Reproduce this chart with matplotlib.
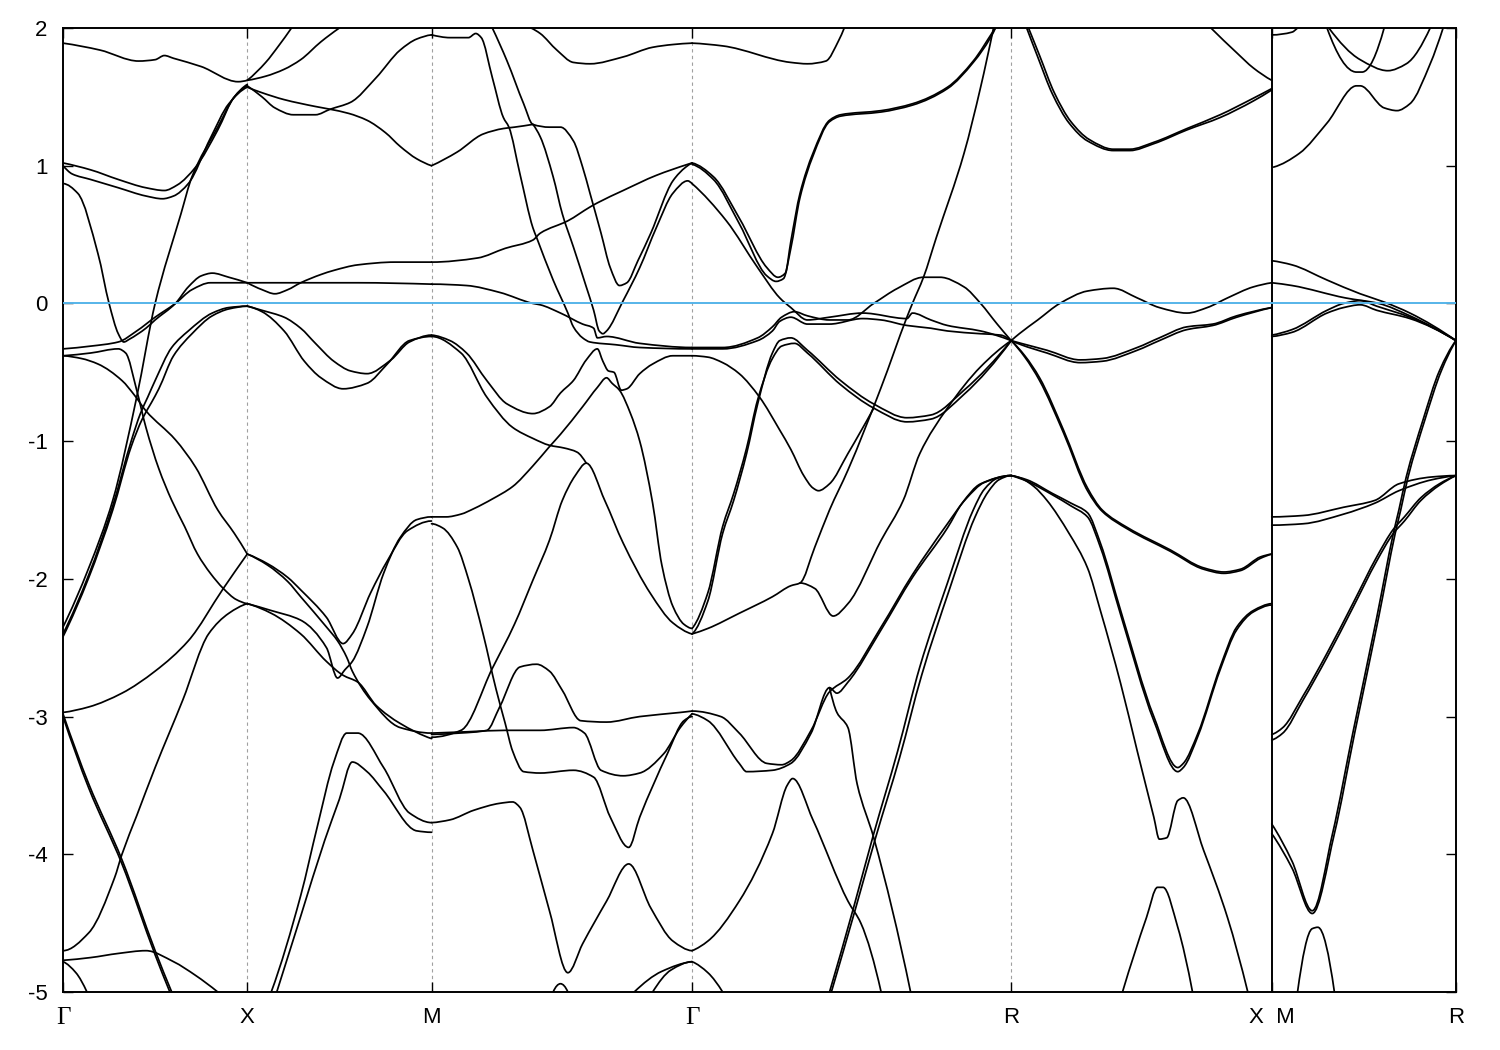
import matplotlib
matplotlib.use('Agg')
import matplotlib.pyplot as plt
from matplotlib.path import Path
from matplotlib.patches import PathPatch

# high-symmetry points along the path (distance units, Gamma-X = 1)
kpts = [0.0, 1.0, 2.0, 3.414, 5.146, 6.56, 7.56]
klabels = ['Γ', 'X', 'M', 'Γ', 'R', 'X  M', 'R']
yticks = [2, 1, 0, -1, -2, -3, -4, -5]
ylabels = ['2', '1', '0', '-1', '-2', '-3', '-4', '-5']

# ---------------- Gamma -> X ----------------
GX1 = [(0,1.89),(0.2,1.84),(0.41,1.76),(0.5,1.77),(0.55,1.80),(0.6,1.78),(0.75,1.72),(0.95,1.61),(1.0,1.62)]
GX2 = [(0,1.02),(0.15,0.97),(0.3,0.9),(0.45,0.84),(0.55,0.82),(0.62,0.86),(0.72,0.99),(0.84,1.26),(0.93,1.5),(1.0,1.58)]
GX3 = [(0,1.0),(0.05,0.94),(0.15,0.9),(0.3,0.84),(0.45,0.78),(0.54,0.76),(0.6,0.78),(0.68,0.87),(0.8,1.2),(0.9,1.45),(1.0,1.57)]
GX4 = [(0,-2.35),(0.14,-1.92),(0.27,-1.43),(0.4,-0.68),(0.5,0.0),(0.64,0.65),(0.7,0.92),(0.84,1.28),(0.93,1.5),(1.0,1.59)]
GX5 = [(0,0.87),(0.08,0.8),(0.19,0.36),(0.25,0.0),(0.3,-0.22),(0.33,-0.28),(0.36,-0.26),(0.45,-0.18),(0.5,-0.12),(0.61,0.0),(0.68,0.12),(0.75,0.2),(0.81,0.22),(0.9,0.19),(1.0,0.15)]
GX6 = [(0,-0.33),(0.15,-0.31),(0.3,-0.28),(0.4,-0.2),(0.5,-0.1),(0.61,0.0),(0.7,0.1),(0.8,0.15),(1.0,0.15)]
GX7 = [(0,-0.38),(0.15,-0.36),(0.3,-0.33),(0.34,-0.36),(0.4,-0.63),(0.45,-0.9),(0.52,-1.2),(0.59,-1.43),(0.66,-1.62),(0.73,-1.82),(0.8,-1.96),(0.87,-2.07),(0.94,-2.15),(1.0,-2.18)]
GX8 = [(0,-0.38),(0.1,-0.4),(0.19,-0.44),(0.32,-0.56),(0.39,-0.67),(0.45,-0.78),(0.61,-0.99),(0.72,-1.19),(0.84,-1.5),(0.93,-1.67),(1.0,-1.82)]
GX10 = [(0,-2.4),(0.14,-1.97),(0.27,-1.47),(0.37,-1.0),(0.42,-0.8),(0.46,-0.68),(0.5,-0.56),(0.59,-0.32),(0.68,-0.2),(0.81,-0.07),(0.9,-0.03),(1.0,-0.02)]
GX11 = [(0,-2.42),(0.14,-1.99),(0.27,-1.5),(0.37,-1.04),(0.43,-0.84),(0.48,-0.72),(0.52,-0.62),(0.6,-0.38),(0.7,-0.22),(0.81,-0.09),(0.9,-0.04),(1.0,-0.02)]
GX12 = [(0,-2.97),(0.14,-2.93),(0.32,-2.83),(0.5,-2.67),(0.68,-2.45),(0.87,-2.07),(1.0,-1.82)]
GX13 = [(0,-2.98),(0.14,-3.49),(0.32,-4.04),(0.5,-4.7),(0.59,-5.0)]
GX14 = [(0,-3.0),(0.14,-3.52),(0.32,-4.07),(0.5,-4.73),(0.58,-5.0)]
GX15 = [(0,-4.7),(0.14,-4.57),(0.28,-4.17),(0.32,-4.0),(0.4,-3.72),(0.5,-3.37),(0.65,-2.88),(0.79,-2.4),(0.9,-2.25),(1.0,-2.18)]
GX16 = [(0,-4.77),(0.15,-4.75),(0.3,-4.72),(0.45,-4.70),(0.6,-4.78),(0.72,-4.88),(0.84,-5.0)]
GX17 = [(0,-4.78),(0.07,-4.86),(0.13,-5.0)]

# ---------------- X -> M ----------------
XM1 = [(1,1.62),(1.1,1.75),(1.17,1.87),(1.24,2.0)]
XM2 = [(1,1.62),(1.1,1.65),(1.2,1.7),(1.29,1.77),(1.4,1.9),(1.5,2.0)]
XM3 = [(1,1.58),(1.08,1.5),(1.15,1.42),(1.25,1.37),(1.37,1.37),(1.45,1.41),(1.56,1.46),(1.7,1.64),(1.83,1.84),(1.92,1.92),(2.0,1.95)]
XM4 = [(1,1.57),(1.08,1.53),(1.2,1.48),(1.37,1.43),(1.45,1.41),(1.55,1.38),(1.65,1.33),(1.75,1.24),(1.83,1.14),(1.92,1.05),(2.0,1.0)]
XM5 = [(1,0.15),(1.3,0.15),(1.6,0.15),(2.0,0.14)]
XM6 = [(1,0.15),(1.08,0.1),(1.15,0.07),(1.22,0.1),(1.29,0.15),(1.4,0.21),(1.47,0.24),(1.6,0.28),(1.8,0.3),(2.0,0.3)]
XM7 = [(1,-0.02),(1.08,-0.05),(1.2,-0.1),(1.29,-0.18),(1.37,-0.29),(1.47,-0.42),(1.56,-0.49),(1.65,-0.51),(1.78,-0.41),(1.88,-0.28),(2.0,-0.23)]
XM8 = [(1,-0.02),(1.08,-0.06),(1.2,-0.2),(1.31,-0.42),(1.4,-0.54),(1.52,-0.62),(1.65,-0.58),(1.76,-0.44),(1.88,-0.27),(2.0,-0.24)]
XM9 = [(1,-1.82),(1.11,-1.89),(1.22,-1.99),(1.29,-2.08),(1.43,-2.28),(1.52,-2.47),(1.57,-2.4),(1.67,-2.1),(1.76,-1.87),(1.87,-1.65),(2.0,-1.58)]
XM10 = [(1,-1.82),(1.11,-1.9),(1.22,-2.02),(1.29,-2.13),(1.43,-2.35),(1.49,-2.45),(1.54,-2.57),(1.57,-2.67),(1.67,-2.88),(1.83,-3.08),(2.0,-3.12)]
XM11 = [(1,-2.18),(1.13,-2.23),(1.29,-2.3),(1.43,-2.5),(1.49,-2.72),(1.53,-2.66),(1.57,-2.6),(1.65,-2.35),(1.74,-1.96),(1.83,-1.7),(1.92,-1.57),(2.0,-1.55)]
XM12 = [(1,-2.18),(1.13,-2.25),(1.29,-2.4),(1.43,-2.6),(1.52,-2.7),(1.6,-2.75),(1.7,-2.92),(1.83,-3.05),(2.0,-3.16)]
XM13 = [(1.13,-5.0),(1.29,-4.3),(1.38,-3.8),(1.47,-3.33),(1.54,-3.12),(1.6,-3.12),(1.74,-3.37),(1.88,-3.7),(2.0,-3.77)]
XM14 = [(1.16,-5.0),(1.29,-4.45),(1.42,-3.9),(1.5,-3.6),(1.57,-3.33),(1.65,-3.4),(1.74,-3.54),(1.92,-3.83),(2.0,-3.84)]

# ---------------- M -> Gamma ----------------
MG1 = [(2.54,2.0),(2.59,1.96),(2.68,1.84),(2.77,1.75),(2.86,1.74),(3.04,1.79),(3.2,1.86),(3.31,1.88),(3.414,1.89)]
MG2 = [(2.0,1.95),(2.1,1.93),(2.2,1.93),(2.24,1.96),(2.27,1.93),(2.33,1.64),(2.39,1.35),(2.42,1.28),(2.48,0.94),(2.55,0.55),(2.57,0.48),(2.66,0.17),(2.74,-0.07),(2.77,-0.17),(2.82,-0.25),(2.86,-0.28),(3.0,-0.3),(3.13,-0.32),(3.414,-0.33)]
MG3 = [(2.0,1.0),(2.14,1.1),(2.28,1.23),(2.39,1.27),(2.45,1.28),(2.55,1.3)]
MG4 = [(2.33,2.0),(2.41,1.76),(2.5,1.45),(2.55,1.3),(2.64,1.28),(2.7,1.28),(2.77,1.18),(2.82,0.99),(2.86,0.8),(2.92,0.51),(2.97,0.26),(3.02,0.13),(3.06,0.15),(3.12,0.31),(3.19,0.51),(3.31,0.89),(3.38,0.99),(3.414,1.02)]
MG5 = [(2.55,1.3),(2.59,1.21),(2.66,0.92),(2.71,0.65),(2.77,0.41),(2.84,0.12),(2.88,-0.05),(2.91,-0.2),(2.93,-0.22),(2.95,-0.2),(3.04,0.02),(3.13,0.26),(3.22,0.55),(3.31,0.8),(3.39,0.89),(3.414,0.87)]
MG6 = [(2.0,0.3),(2.25,0.33),(2.4,0.4),(2.55,0.46),(2.59,0.51),(2.74,0.6),(2.86,0.7),(2.9,0.73),(3.04,0.82),(3.22,0.93),(3.39,1.01),(3.414,1.02)]
MG7 = [(2.0,0.14),(2.19,0.13),(2.37,0.08),(2.55,0.0),(2.59,-0.01),(2.7,-0.07),(2.82,-0.15),(2.88,-0.18),(2.9,-0.25),(2.95,-0.24),(3.13,-0.29),(3.414,-0.32)]
MG8 = [(2.0,-0.23),(2.1,-0.27),(2.19,-0.36),(2.3,-0.56),(2.41,-0.73),(2.55,-0.8),(2.64,-0.75),(2.7,-0.65),(2.77,-0.56),(2.84,-0.41),(2.9,-0.33),(2.93,-0.42),(2.96,-0.49),(2.99,-0.5),(3.03,-0.63),(3.06,-0.62),(3.13,-0.51),(3.2,-0.44),(3.31,-0.38),(3.414,-0.38)]
MG9 = [(2.0,-0.24),(2.16,-0.36),(2.3,-0.68),(2.44,-0.9),(2.55,-0.98),(2.64,-1.03),(2.72,-1.05),(2.79,-1.08),(2.84,-1.16)]
MG10 = [(2.0,-1.55),(2.08,-1.55),(2.16,-1.53),(2.23,-1.49),(2.33,-1.42),(2.44,-1.33),(2.55,-1.18),(2.64,-1.04),(2.7,-0.95),(2.82,-0.75),(2.9,-0.61),(2.95,-0.54),(2.98,-0.58),(3.02,-0.63),(3.08,-0.8),(3.13,-1.0),(3.2,-1.45),(3.25,-1.9),(3.31,-2.2),(3.37,-2.33),(3.414,-2.36)]
MG11 = [(2.0,-3.15),(2.16,-3.1),(2.33,-2.65),(2.45,-2.33),(2.55,-2.01),(2.64,-1.72),(2.71,-1.43),(2.78,-1.25),(2.84,-1.16),(2.94,-1.43),(3.04,-1.74),(3.19,-2.11),(3.31,-2.32),(3.414,-2.4)]
MG12 = [(2.0,-1.6),(2.06,-1.63),(2.14,-1.77),(2.2,-2.0),(2.28,-2.4),(2.35,-2.8),(2.4,-3.05),(2.44,-3.25),(2.5,-3.4),(2.59,-3.41),(2.77,-3.39),(2.88,-3.44),(2.97,-3.73),(3.07,-3.95),(3.13,-3.73),(3.28,-3.27),(3.37,-3.03),(3.414,-3.0)]
MG13 = [(2.0,-3.12),(2.2,-3.11),(2.4,-3.1),(2.59,-3.1),(2.77,-3.08),(2.83,-3.12),(2.92,-3.39),(3.04,-3.43),(3.13,-3.41),(3.26,-3.27),(3.35,-3.08),(3.414,-2.98)]
MG14 = [(2.0,-3.13),(2.15,-3.12),(2.3,-3.1),(2.37,-2.93),(2.48,-2.64),(2.57,-2.62),(2.64,-2.67),(2.71,-2.81),(2.81,-3.03),(2.95,-3.04),(3.13,-3.0),(3.35,-2.97),(3.414,-2.96)]
MG15 = [(2.0,-3.77),(2.1,-3.75),(2.23,-3.68),(2.37,-3.63),(2.44,-3.62),(2.48,-3.66),(2.55,-3.97),(2.64,-4.41),(2.74,-4.86),(2.82,-4.65),(2.95,-4.34),(3.07,-4.07),(3.19,-4.39),(3.31,-4.63),(3.414,-4.7)]
MG16 = [(3.1,-5.0),(3.25,-4.85),(3.414,-4.78)]
MG17 = [(3.2,-5.0),(3.3,-4.84),(3.414,-4.78)]
MG18 = [(2.66,-5.0),(2.7,-4.94),(2.74,-5.0)]

# ---------------- Gamma -> R ----------------
GR1 = [(3.414,1.89),(3.58,1.87),(3.95,1.75),(4.04,1.74),(4.14,1.76),(4.21,1.91),(4.24,2.0)]
GR2 = [(3.414,1.02),(3.53,0.92),(3.67,0.62),(3.82,0.26),(3.88,0.19),(3.92,0.22),(3.95,0.45),(4.0,0.8),(4.07,1.09),(4.16,1.33),(4.22,1.37),(4.44,1.4),(4.61,1.45),(4.8,1.57),(4.94,1.76),(5.05,1.98),(5.06,2.0)]
GR3 = [(3.414,1.01),(3.53,0.9),(3.67,0.58),(3.82,0.2),(3.87,0.16),(3.91,0.18),(3.95,0.4),(4.0,0.77),(4.07,1.07),(4.16,1.32),(4.22,1.36),(4.44,1.39),(4.61,1.44),(4.8,1.56),(4.94,1.75),(5.05,1.97),(5.06,2.0)]
GR4 = [(3.414,-2.4),(3.5,-2.36),(3.67,-2.25),(3.85,-2.13),(3.95,-2.05),(4.0,-2.03),(4.08,-1.77),(4.16,-1.5),(4.26,-1.21),(4.44,-0.61),(4.58,-0.1),(4.61,0.0),(4.67,0.19),(4.74,0.48),(4.89,1.09),(4.98,1.57),(5.05,2.0)]
GR5 = [(4.0,-2.03),(4.08,-2.07),(4.18,-2.27),(4.26,-2.18),(4.44,-1.72),(4.56,-1.43),(4.65,-1.09),(4.8,-0.76),(4.98,-0.46),(5.146,-0.27)]
GR6 = [(3.414,0.87),(3.6,0.6),(3.77,0.26),(3.89,0.04),(3.95,-0.03),(4.04,-0.12),(4.16,-0.1),(4.34,-0.07),(4.58,-0.11),(4.61,-0.07),(4.71,-0.12),(4.8,-0.16),(4.98,-0.2),(5.146,-0.27)]
GR7 = [(3.414,-0.33),(3.58,-0.33),(3.77,-0.27),(3.85,-0.2),(3.89,-0.13),(3.95,-0.1),(4.04,-0.15),(4.16,-0.15),(4.34,-0.11),(4.44,-0.12),(4.58,-0.16),(4.71,-0.18),(4.8,-0.2),(4.98,-0.22),(5.09,-0.23),(5.146,-0.27)]
GR8 = [(3.414,-0.32),(3.58,-0.32),(3.77,-0.25),(3.85,-0.17),(3.9,-0.1),(3.97,-0.06),(4.04,-0.09),(4.16,-0.12),(4.26,-0.12),(4.4,0.0),(4.53,0.11),(4.67,0.19),(4.76,0.19),(4.89,0.12),(4.98,0.0),(5.07,-0.15),(5.146,-0.27)]
GR9 = [(3.414,-0.38),(3.5,-0.39),(3.58,-0.43),(3.67,-0.51),(3.78,-0.68),(3.89,-0.92),(3.95,-1.06),(4.02,-1.25),(4.07,-1.34),(4.1,-1.36),(4.16,-1.31),(4.26,-1.09),(4.4,-0.76)]
GR10 = [(3.414,-2.4),(3.5,-2.16),(3.58,-1.67),(3.64,-1.43),(3.71,-1.09),(3.77,-0.73),(3.85,-0.36),(3.89,-0.27),(3.95,-0.25),(4.04,-0.34),(4.22,-0.56),(4.4,-0.73),(4.58,-0.83),(4.71,-0.81),(4.89,-0.63),(5.146,-0.27)]
GR11 = [(3.414,-2.36),(3.5,-2.1),(3.58,-1.62),(3.64,-1.38),(3.71,-1.05),(3.77,-0.7),(3.85,-0.4),(3.9,-0.31),(3.97,-0.29),(4.04,-0.36),(4.22,-0.59),(4.4,-0.76),(4.58,-0.86),(4.71,-0.84),(4.89,-0.66),(5.146,-0.27)]
GR12 = [(3.414,-2.98),(3.5,-3.03),(3.67,-3.34),(3.71,-3.4),(3.85,-3.39),(3.95,-3.34),(4.06,-3.12),(4.16,-2.79),(4.2,-2.83),(4.26,-2.75),(4.44,-2.37),(4.61,-1.99),(4.8,-1.63),(4.88,-1.45),(4.98,-1.31),(5.146,-1.25)]
GR13 = [(3.414,-2.96),(3.57,-3.0),(3.67,-3.12),(3.82,-3.34),(3.9,-3.35),(3.95,-3.32),(4.06,-3.1),(4.16,-2.82),(4.26,-2.72),(4.44,-2.35),(4.61,-1.97),(4.8,-1.6),(4.9,-1.42),(5.0,-1.3),(5.146,-1.25)]
GR14 = [(3.414,-4.7),(3.5,-4.63),(3.67,-4.34),(3.85,-3.85),(3.93,-3.5),(3.96,-3.45),(4.07,-3.75),(4.26,-4.34),(4.33,-4.5),(4.44,-5.0)]
GR15 = [(4.16,-5.0),(4.29,-4.39),(4.4,-3.85),(4.53,-3.25),(4.65,-2.64),(4.8,-2.03),(4.94,-1.5),(5.0,-1.35),(5.07,-1.27),(5.146,-1.25)]
GR16 = [(4.17,-5.0),(4.3,-4.4),(4.41,-3.88),(4.54,-3.3),(4.66,-2.7),(4.81,-2.08),(4.95,-1.55),(5.02,-1.37),(5.08,-1.28),(5.146,-1.25)]
GR17 = [(4.16,-2.79),(4.2,-2.97),(4.26,-3.08),(4.31,-3.49),(4.4,-3.88),(4.6,-5.0)]
GR18 = [(3.414,-4.78),(3.5,-4.86),(3.58,-5.0)]

# ---------------- R -> X ----------------
RX1 = [(5.23,2.0),(5.29,1.79),(5.37,1.52),(5.46,1.31),(5.56,1.18),(5.7,1.11),(5.79,1.11),(5.92,1.16),(6.1,1.26),(6.28,1.35),(6.46,1.47),(6.56,1.55)]
RX2 = [(5.24,2.0),(5.3,1.8),(5.38,1.53),(5.47,1.32),(5.57,1.19),(5.7,1.12),(5.79,1.12),(5.92,1.17),(6.1,1.27),(6.28,1.37),(6.46,1.49),(6.56,1.56)]
RX3 = [(6.23,2.0),(6.37,1.82),(6.46,1.71),(6.56,1.62)]
RX4 = [(5.146,-0.27),(5.19,-0.22),(5.29,-0.12),(5.41,0.0),(5.56,0.09),(5.7,0.11),(5.83,0.04),(5.95,-0.03),(6.1,-0.07),(6.21,-0.03),(6.32,0.04),(6.46,0.12),(6.56,0.15)]
RX5 = [(5.146,-0.27),(5.2,-0.29),(5.34,-0.34),(5.52,-0.41),(5.64,-0.4),(5.83,-0.32),(5.95,-0.25),(6.1,-0.17),(6.24,-0.15),(6.37,-0.09),(6.56,-0.03)]
RX6 = [(5.146,-0.27),(5.2,-0.3),(5.34,-0.36),(5.52,-0.43),(5.64,-0.42),(5.83,-0.34),(5.95,-0.27),(6.1,-0.19),(6.24,-0.16),(6.37,-0.1),(6.56,-0.03)]
RX7 = [(5.146,-0.27),(5.22,-0.38),(5.3,-0.54),(5.43,-0.92),(5.56,-1.34),(5.64,-1.5),(5.78,-1.63),(6.01,-1.79),(6.19,-1.92),(6.3,-1.95),(6.39,-1.93),(6.5,-1.84),(6.56,-1.82)]
RX8 = [(5.146,-0.27),(5.22,-0.39),(5.3,-0.56),(5.43,-0.94),(5.56,-1.36),(5.64,-1.51),(5.78,-1.64),(6.01,-1.8),(6.19,-1.93),(6.3,-1.96),(6.39,-1.94),(6.5,-1.85),(6.56,-1.82)]
RX9 = [(5.146,-1.25),(5.2,-1.27),(5.27,-1.33),(5.34,-1.43),(5.46,-1.67),(5.56,-1.92),(5.63,-2.23),(5.74,-2.76),(5.83,-3.25),(5.92,-3.73),(5.95,-3.89),(5.99,-3.88),(6.05,-3.61),(6.08,-3.59),(6.19,-3.97),(6.32,-4.46),(6.43,-5.0)]
RX10 = [(5.146,-1.25),(5.23,-1.28),(5.37,-1.38),(5.47,-1.45),(5.56,-1.52),(5.63,-1.74),(5.74,-2.23),(5.92,-3.0),(6.05,-3.37),(6.08,-3.34),(6.16,-3.12),(6.28,-2.64),(6.37,-2.35),(6.46,-2.23),(6.56,-2.18)]
RX11 = [(5.146,-1.25),(5.23,-1.29),(5.37,-1.39),(5.47,-1.47),(5.56,-1.55),(5.63,-1.77),(5.74,-2.26),(5.92,-3.03),(6.05,-3.4),(6.08,-3.37),(6.16,-3.14),(6.28,-2.66),(6.37,-2.37),(6.46,-2.24),(6.56,-2.19)]
RX12 = [(5.75,-5.0),(5.88,-4.46),(5.94,-4.24),(5.97,-4.24),(6.05,-4.53),(6.13,-5.0)]

# ---------------- M -> R ----------------
MR1 = [(6.57,0.99),(6.71,1.09),(6.86,1.31),(7.02,1.58),(7.04,1.58),(7.17,1.42),(7.24,1.4),(7.31,1.45),(7.42,1.74),(7.49,2.0)]
MR2 = [(6.86,2.0),(7.02,1.68),(7.05,1.68),(7.17,2.0)]
MR3 = [(6.87,2.0),(7.04,1.77),(7.19,1.69),(7.29,1.74),(7.42,2.0)]
MR4 = [(6.56,1.95),(6.67,1.97),(6.7,2.0)]
MR5 = [(6.56,0.31),(6.67,0.28),(6.86,0.17),(7.04,0.07),(7.17,0.01),(7.31,-0.07),(7.56,-0.27)]
MR6 = [(6.56,0.15),(6.67,0.13),(6.96,0.04),(7.14,0.0),(7.31,-0.09),(7.56,-0.27)]
MR7 = [(6.56,-0.24),(6.67,-0.21),(6.86,-0.07),(6.95,-0.03),(7.04,-0.01),(7.13,-0.05),(7.31,-0.11),(7.56,-0.27)]
MR8 = [(6.56,-0.23),(6.67,-0.19),(6.86,-0.05),(6.95,0.0),(7.04,0.02),(7.13,-0.02),(7.31,-0.1),(7.56,-0.27)]
MR9 = [(6.56,-3.78),(6.67,-4.05),(6.78,-4.41),(6.89,-3.85),(7.0,-3.12),(7.13,-2.28),(7.22,-1.67),(7.25,-1.5),(7.29,-1.26),(7.38,-0.85),(7.47,-0.49),(7.56,-0.27)]
MR10 = [(6.56,-3.85),(6.67,-4.1),(6.78,-4.43),(6.9,-3.85),(7.01,-3.12),(7.14,-2.28),(7.23,-1.67),(7.26,-1.5),(7.3,-1.26),(7.39,-0.85),(7.48,-0.49),(7.56,-0.27)]
MR11 = [(6.56,-1.55),(6.73,-1.54),(6.95,-1.48),(7.12,-1.43),(7.25,-1.31),(7.43,-1.26),(7.56,-1.25)]
MR12 = [(6.56,-1.61),(6.73,-1.6),(6.95,-1.53),(7.12,-1.45),(7.25,-1.36),(7.43,-1.28),(7.56,-1.25)]
MR13 = [(6.56,-3.17),(6.62,-3.12),(6.73,-2.88),(6.86,-2.57),(7.0,-2.21),(7.13,-1.87),(7.22,-1.67),(7.28,-1.58),(7.37,-1.43),(7.47,-1.32),(7.56,-1.25)]
MR14 = [(6.56,-3.13),(6.62,-3.08),(6.73,-2.85),(6.86,-2.54),(7.0,-2.18),(7.13,-1.84),(7.22,-1.64),(7.28,-1.55),(7.37,-1.41),(7.47,-1.31),(7.56,-1.25)]
MR15 = [(6.7,-5.0),(6.78,-4.54),(6.81,-4.53),(6.9,-5.0)]

bands = [GX1, GX2, GX3, GX4, GX5, GX6, GX7, GX8, GX10, GX11, GX12, GX13, GX14, GX15, GX16, GX17,
         XM1, XM2, XM3, XM4, XM5, XM6, XM7, XM8, XM9, XM10, XM11, XM12, XM13, XM14,
         MG1, MG2, MG3, MG4, MG5, MG6, MG7, MG8, MG9, MG10, MG11, MG12, MG13, MG14, MG15, MG16, MG17, MG18,
         GR1, GR2, GR3, GR4, GR5, GR6, GR7, GR8, GR9, GR10, GR11, GR12, GR13, GR14, GR15, GR16, GR17, GR18,
         RX1, RX2, RX3, RX4, RX5, RX6, RX7, RX8, RX9, RX10, RX11, RX12,
         MR1, MR2, MR3, MR4, MR5, MR6, MR7, MR8, MR9, MR10, MR11, MR12, MR13, MR14, MR15]


def band_path(band):
    """Smooth (shape-preserving cubic Bezier) drawing path through the read points."""
    ks = [p[0] for p in band]
    es = [p[1] for p in band]
    n = len(ks)
    verts = [(ks[0], es[0])]
    codes = [Path.MOVETO]
    if n < 3:
        for i in range(1, n):
            verts.append((ks[i], es[i]))
            codes.append(Path.LINETO)
        return Path(verts, codes)
    h = [ks[i + 1] - ks[i] for i in range(n - 1)]
    d = [(es[i + 1] - es[i]) / h[i] for i in range(n - 1)]
    m = [0.0] * n
    for i in range(1, n - 1):
        if d[i - 1] * d[i] <= 0:
            m[i] = 0.0
        else:
            w1 = 2 * h[i] + h[i - 1]
            w2 = h[i] + 2 * h[i - 1]
            m[i] = (w1 + w2) / (w1 / d[i - 1] + w2 / d[i])
    for (i, s) in ((0, 1), (n - 1, -1)):
        if s == 1:
            h0, h1, d0, d1 = h[0], h[1], d[0], d[1]
        else:
            h0, h1, d0, d1 = h[-1], h[-2], d[-1], d[-2]
        mm = ((2 * h0 + h1) * d0 - h0 * d1) / (h0 + h1)
        if mm * d0 <= 0:
            mm = 0.0
        elif d0 * d1 <= 0 and abs(mm) > abs(3 * d0):
            mm = 3 * d0
        m[i] = mm
    for i in range(n - 1):
        hh = h[i]
        verts.append((ks[i] + hh / 3, es[i] + m[i] * hh / 3))
        verts.append((ks[i + 1] - hh / 3, es[i + 1] - m[i + 1] * hh / 3))
        verts.append((ks[i + 1], es[i + 1]))
        codes += [Path.CURVE4] * 3
    return Path(verts, codes)


plt.rcParams['font.family'] = ['Liberation Sans', 'DejaVu Sans']

fig = plt.figure(figsize=(15, 10.5), dpi=100)
ax = fig.add_axes([63/1500, 1 - 992/1050, (1456 - 63)/1500, (992 - 28)/1050])

for b in bands:
    patch = PathPatch(band_path(b), facecolor='none', edgecolor='black', lw=1.25,
                      joinstyle='round', capstyle='round', zorder=2)
    ax.add_patch(patch)

for kv in kpts[1:5]:
    ax.axvline(kv, color='#a0a0a0', lw=0.8, ls=(0, (3, 3)), zorder=1)
ax.axvline(kpts[5], color='black', lw=1.4, zorder=3)
ax.axhline(0, color='#56b4e9', lw=1.4, zorder=3)

ax.set_xlim(kpts[0], kpts[-1])
ax.set_ylim(-5, 2)
ax.set_yticks(yticks)
ax.set_yticklabels(ylabels)
ax.set_xticks(kpts)
ax.set_xticklabels(klabels)
ax.tick_params(axis='both', direction='in', length=7, width=1.0, labelsize=16,
               top=True, right=True, colors='black')
ax.tick_params(axis='y', pad=11)
ax.tick_params(axis='x', pad=11)
for lbl in ax.get_xticklabels():
    if 'Γ' in lbl.get_text():
        lbl.set_fontfamily('Liberation Serif')
        lbl.set_fontsize(18)
for s in ax.spines.values():
    s.set_linewidth(1.4)

fig.savefig('out.png', dpi=100)
